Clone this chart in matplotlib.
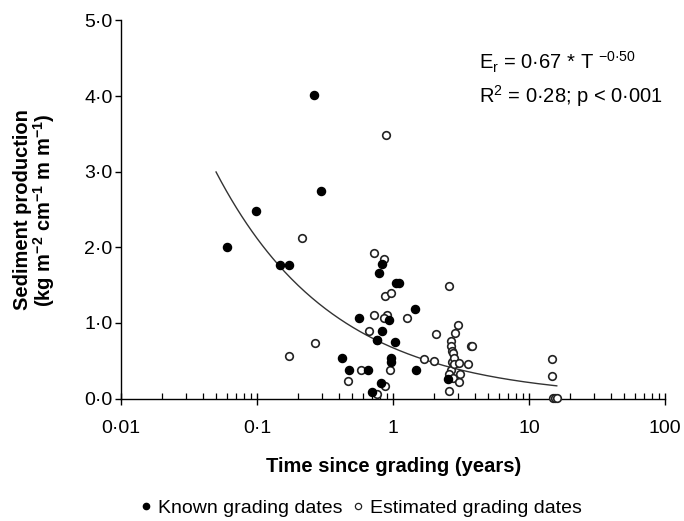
import matplotlib

matplotlib.use("Agg")
import matplotlib.pyplot as plt
import numpy as np
from matplotlib.lines import Line2D
from matplotlib.ticker import FixedLocator, LogLocator, NullFormatter

plt.rcParams["font.family"] = ["Liberation Sans", "DejaVu Sans"]
plt.rcParams["mathtext.default"] = "regular"

# known grading dates (filled)
known_t = [0.0605, 0.099, 0.148, 0.173, 0.264, 0.294, 0.42, 0.477, 0.566, 0.658,
           0.70, 0.767, 0.79, 0.81, 0.826, 0.83, 0.93, 0.96, 0.97, 1.03,
           1.06, 1.10, 1.45, 1.48, 2.55]
known_e = [2.01, 2.48, 1.76, 1.77, 4.01, 2.75, 0.53, 0.38, 1.07, 0.375,
           0.08, 0.77, 1.66, 0.21, 1.78, 0.895, 1.04, 0.53, 0.48, 0.75,
           1.53, 1.53, 1.19, 0.375, 0.26]

# estimated grading dates (open)
est_t = [0.173, 0.213, 0.268, 0.469, 0.578, 0.67, 0.72, 0.729, 0.767, 0.76,
         0.859, 0.87, 0.87, 0.89, 0.90, 0.86, 0.95, 0.96, 1.27, 1.69,
         2.0, 2.07, 2.6, 2.66, 2.66, 2.70, 2.75, 2.70, 2.66, 2.6,
         2.78, 2.6, 2.80, 2.81, 2.86, 3.02, 3.07, 3.11, 3.07, 3.58,
         3.72, 3.82, 14.8, 14.8, 15.1, 15.5, 16.1]
est_e = [0.56, 2.12, 0.73, 0.23, 0.38, 0.89, 1.10, 1.92, 0.77, 0.06,
         1.85, 1.36, 0.16, 3.48, 1.11, 1.07, 0.38, 1.39, 1.06, 0.52,
         0.49, 0.85, 1.49, 0.76, 0.69, 0.63, 0.60, 0.485, 0.375, 0.33,
         0.265, 0.10, 0.53, 0.46, 0.87, 0.97, 0.47, 0.33, 0.22, 0.45,
         0.69, 0.70, 0.52, 0.30, 0.01, 0.01, 0.01]

# fitted power law E_r = a * T^b
fit_a = 0.67
fit_b = -0.50
fit_range = (0.05, 16.0)

y_ticks = [0, 1, 2, 3, 4, 5]
y_ticklabels = ["0·0", "1·0", "2·0", "3·0", "4·0", "5·0"]
x_ticks = [0.01, 0.1, 1, 10, 100]
x_ticklabels = ["0·01", "0·1", "1", "10", "100"]

W, H = 684, 521
fig = plt.figure(figsize=(W / 100, H / 100), dpi=100)
ax = fig.add_axes([121 / W, (H - 398.5) / H, (665 - 121) / W, (398.5 - 20.5) / H])

tt = np.logspace(np.log10(fit_range[0]), np.log10(fit_range[1]), 200)
ax.plot(tt, fit_a * tt ** fit_b, color="#333333", lw=1.0, zorder=2)

ax.scatter(est_t, est_e, s=30, facecolors="white", edgecolors="#222222",
           linewidths=1.2, zorder=3, clip_on=False)
ax.scatter(known_t, known_e, s=34, color="black", zorder=4, clip_on=False)

ax.set_xscale("log")
ax.set_xlim(0.01, 100)
ax.set_ylim(0, 5)
ax.spines["top"].set_visible(False)
ax.spines["right"].set_visible(False)
for s in ("left", "bottom"):
    ax.spines[s].set_linewidth(1.0)

ax.xaxis.set_major_locator(FixedLocator(x_ticks))
ax.set_xticklabels(x_ticklabels)
ax.xaxis.set_minor_locator(LogLocator(base=10, subs=np.arange(2, 10)))
ax.xaxis.set_minor_formatter(NullFormatter())
ax.set_yticks(y_ticks)
ax.set_yticklabels(y_ticklabels)
ax.tick_params(axis="x", which="major", direction="inout", length=9, width=1.0,
               pad=11, labelsize=14)
ax.tick_params(axis="x", which="minor", direction="in", length=4.5, width=0.9)
ax.tick_params(axis="y", which="major", direction="out", length=4, width=1.0,
               pad=2, labelsize=14)

fig.text(35 / W, 1 - 210 / H,
         "Sediment production\n(kg m$^{-2}$ cm$^{-1}$ m m$^{-1}$)",
         rotation=90, ha="center", va="center", fontsize=14.5, fontweight="bold",
         linespacing=1.0)
fig.text(394 / W, 1 - 467 / H, "Time since grading (years)",
         ha="center", va="center", fontsize=14.5, fontweight="bold")

fig.text(479 / W, 1 - 62 / H, "E$_r$ = 0·67 * T $^{-0·50}$",
         ha="left", va="center", fontsize=14.5)
fig.text(479 / W, 1 - 96 / H, "R$^2$ = 0·28; p < 0·001",
         ha="left", va="center", fontsize=14.5)

handles = [
    Line2D([], [], ls="none", marker="o", ms=4.5, color="black"),
    Line2D([], [], ls="none", marker="o", ms=4.5, mfc="white", mec="#222222", mew=0.9),
]
fig.legend(handles, ["Known grading dates", "Estimated grading dates"],
           loc="center", bbox_to_anchor=(359 / W, 1 - 508 / H), ncol=2,
           frameon=False, fontsize=14, handletextpad=0.1, columnspacing=0.3,
           handlelength=1.0)

fig.savefig("out.png", dpi=100)
